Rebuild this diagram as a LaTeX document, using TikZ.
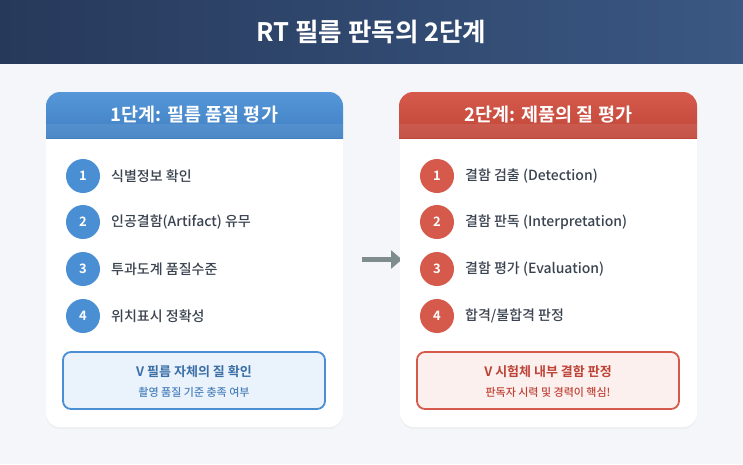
\documentclass[tikz,border=0pt]{standalone}
\usepackage{fontspec}
\setmainfont{Noto Sans CJK KR}[BoldFont={Noto Sans CJK KR Bold}]
\newfontfamily\medfont{Noto Sans CJK KR Medium}
\usetikzlibrary{arrows.meta,shadows}
\definecolor{bgc}{HTML}{F4F6F9}
\definecolor{navyL}{HTML}{27395B}
\definecolor{navyR}{HTML}{3A5883}
\definecolor{blueT}{HTML}{5597D8}
\definecolor{blueB}{HTML}{3F7FC2}
\definecolor{blueC}{HTML}{4A8FD4}
\definecolor{blueBoxF}{HTML}{EAF2FB}
\definecolor{blueTxt}{HTML}{3A6FA8}
\definecolor{blueTxt2}{HTML}{4A80BC}
\definecolor{redT}{HTML}{D65A4C}
\definecolor{redB}{HTML}{BF4638}
\definecolor{redC}{HTML}{D65A4C}
\definecolor{redBoxF}{HTML}{FCF0EE}
\definecolor{redTxt}{HTML}{BE4336}
\definecolor{itemTxt}{HTML}{3A4350}
\definecolor{arrowC}{HTML}{7F8C8D}
\tikzset{
  card/.style={fill=white, rounded corners=14pt, minimum width=297pt, minimum height=335pt, inner sep=0pt, drop shadow={opacity=0.06, shadow xshift=0pt, shadow yshift=-2pt}},
  numc/.style={circle, minimum size=34pt, inner sep=0pt, text=white, font=\bfseries\fontsize{13}{13}\selectfont},
  item/.style={anchor=west, text=itemTxt, font=\medfont\fontsize{14}{14}\selectfont, inner sep=0pt},
  cardtitle/.style={text=white, font=\bfseries\fontsize{18.5}{18.5}\selectfont},
  notebox/.style={rounded corners=8pt, line width=1.8pt, minimum width=262pt, minimum height=57pt, inner sep=0pt},
  conn/.style={draw=arrowC, line width=4.5pt, -{Triangle[length=11pt,width=18pt]}}
}
\begin{document}
\begin{tikzpicture}[x=1pt,y=-1pt]
\useasboundingbox (0,0) rectangle (743,464);
\fill[bgc] (0,0) rectangle (743,464);
\shade[left color=navyL, right color=navyR] (0,0) rectangle (743,63);
\node[text=white, font=\bfseries\fontsize{25.5}{25.5}\selectfont] (title) at (371.5,32) {RT 필름 판독의 2단계};

% left card
\node[card] (L) at (194.5,259.5) {};
\coordinate (Rw) at (399,259.5);
% arrow (drawn before right card so the card covers the tip)
\draw[conn, shorten <=19pt, shorten >=-3pt] (L.east) -- (Rw);
\node[card] (R) at (548.5,259.5) {};

\begin{scope}
\clip[rounded corners=14pt] (46,92) rectangle (343,427);
\shade[top color=blueT, bottom color=blueB] (46,92) rectangle (343,138);
\fill[white, opacity=0.08] (46,124) rectangle (343,138);
\end{scope}
\begin{scope}
\clip[rounded corners=14pt] (399,92) rectangle (697,427);
\shade[top color=redT, bottom color=redB] (399,92) rectangle (697,138);
\fill[white, opacity=0.08] (399,124) rectangle (697,138);
\end{scope}
\node[cardtitle] (Lt) at (194.5,115) {1단계: 필름 품질 평가};
\node[cardtitle] (Rt) at (548.5,115) {2단계: 제품의 질 평가};

% left items
\node[numc, fill=blueC] (l1) at (83,176) {1};
\node[numc, fill=blueC] (l2) at (83,222) {2};
\node[numc, fill=blueC] (l3) at (83,269) {3};
\node[numc, fill=blueC] (l4) at (83,316) {4};
\node[item] (lt1) at (111,176) {식별정보 확인};
\node[item] (lt2) at (111,222) {인공결함(Artifact) 유무};
\node[item] (lt3) at (111,269) {투과도계 품질수준};
\node[item] (lt4) at (111,316) {위치표시 정확성};

% right items
\node[numc, fill=redC] (r1) at (437,176) {1};
\node[numc, fill=redC] (r2) at (437,222) {2};
\node[numc, fill=redC] (r3) at (437,269) {3};
\node[numc, fill=redC] (r4) at (437,316) {4};
\node[item] (rt1) at (465,176) {결함 검출 (Detection)};
\node[item] (rt2) at (465,222) {결함 판독 (Interpretation)};
\node[item] (rt3) at (465,269) {결함 평가 (Evaluation)};
\node[item] (rt4) at (465,316) {합격/불합격 판정};

% note boxes
\node[notebox, draw=blueC, fill=blueBoxF] (lb) at (194,380.5) {};
\node[text=blueTxt, font=\bfseries\fontsize{13}{13}\selectfont] (lb1) at (194,372) {V 필름 자체의 질 확인};
\node[text=blueTxt2, font=\medfont\fontsize{11}{11}\selectfont] (lb2) at (194,392) {촬영 품질 기준 충족 여부};

\node[notebox, draw=redC, fill=redBoxF] (rb) at (548,380.5) {};
\node[text=redTxt, font=\bfseries\fontsize{13}{13}\selectfont] (rb1) at (548,372) {V 시험체 내부 결함 판정};
\node[text=redTxt, font=\medfont\fontsize{11}{11}\selectfont] (rb2) at (548,392) {판독자 시력 및 경력이 핵심!};
\end{tikzpicture}
\end{document}
